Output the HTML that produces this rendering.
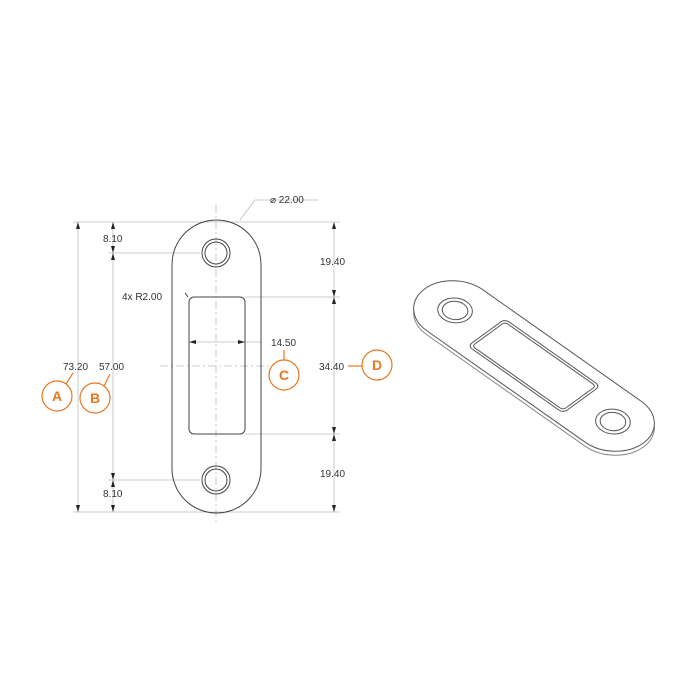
<!DOCTYPE html>
<html><head><style>body{margin:0;background:#fff}svg{display:block}</style></head><body>
<svg width="700" height="700" viewBox="0 0 700 700" xmlns="http://www.w3.org/2000/svg" font-family="Liberation Sans, sans-serif">
<g fill="none" stroke="#bbb" stroke-width="0.8">
<line x1="73" y1="222" x2="340" y2="222"/><line x1="73" y1="512" x2="340" y2="512"/>
<line x1="108" y1="253" x2="200" y2="253"/><line x1="108" y1="480" x2="200" y2="480"/>
<line x1="245" y1="297" x2="340" y2="297"/><line x1="245" y1="434" x2="340" y2="434"/>
<line x1="78" y1="222" x2="78" y2="512"/><line x1="113" y1="222" x2="113" y2="512"/>
<line x1="334" y1="222" x2="334" y2="512"/>
<line x1="189" y1="342" x2="262" y2="342"/>
<line x1="240" y1="220" x2="255" y2="200"/><line x1="255" y1="200" x2="318" y2="200"/>
</g>
<g stroke="#bbb" stroke-width="0.8" stroke-dasharray="8 3 2 3">
<line x1="216" y1="205" x2="216" y2="525"/><line x1="160" y1="366" x2="272" y2="366"/>
</g>
<g fill="#222">
<path d="M78 222 l-2 7 h4z"/><path d="M78 512 l-2 -7 h4z"/>
<path d="M113 222 l-2 7 h4z"/><path d="M113 512 l-2 -7 h4z"/>
<path d="M113 253 l-2 -7 h4z"/><path d="M113 253 l-2 7 h4z"/>
<path d="M113 480 l-2 -7 h4z"/><path d="M113 480 l-2 7 h4z"/>
<path d="M334 222 l-2 7 h4z"/><path d="M334 512 l-2 -7 h4z"/>
<path d="M334 297 l-2 -7 h4z"/><path d="M334 297 l-2 7 h4z"/>
<path d="M334 434 l-2 -7 h4z"/><path d="M334 434 l-2 7 h4z"/>
<path d="M189 342 l7 -2 v4z"/><path d="M245 342 l-7 -2 v4z"/>
</g>
<g fill="none" stroke="#444" stroke-width="1">
<rect x="172" y="220" width="89" height="293" rx="44.5"/>
<circle cx="216" cy="253" r="14"/><circle cx="216" cy="253" r="11"/>
<circle cx="216" cy="480" r="14"/><circle cx="216" cy="480" r="11"/>
<rect x="189" y="297" width="56" height="137" rx="5"/>
<line x1="188" y1="297" x2="185" y2="293"/>
</g>
<g font-size="10" fill="#333">
<text x="270" y="203">⌀ 22.00</text>
<text x="103" y="242">8.10</text><text x="103" y="497">8.10</text>
<text x="320" y="265">19.40</text><text x="320" y="477">19.40</text>
<text x="122" y="300">4x R2.00</text>
<text x="271" y="346">14.50</text>
<text x="63" y="370">73.20</text><text x="99" y="370">57.00</text>
<text x="319" y="370">34.40</text>
</g>
<g stroke="#e87722" fill="none" stroke-width="1.2">
<circle cx="57" cy="396" r="15"/><circle cx="95" cy="398" r="15"/>
<circle cx="284" cy="375" r="15"/><circle cx="377" cy="365" r="15"/>
<line x1="66" y1="384" x2="73" y2="373"/><line x1="104" y1="386" x2="110" y2="374"/>
<line x1="284" y1="360" x2="284" y2="350"/><line x1="348" y1="366" x2="362" y2="366"/>
</g>
<g fill="#e87722" font-size="14" font-weight="bold" text-anchor="middle">
<text x="57" y="401">A</text><text x="95" y="403">B</text><text x="284" y="380">C</text><text x="377" y="370">D</text>
</g>
<g transform="matrix(2.77,1.95,2.55,-1.86,534,370)" fill="#fff" stroke="#888" stroke-width="1">
<path d="M-28.5 -11 H28.5 A11 11 0 0 1 28.5 11 H-28.5 A11 11 0 0 1 -28.5 -11Z" vector-effect="non-scaling-stroke"/>
</g>
<g transform="matrix(2.77,1.95,2.55,-1.86,534,366)" fill="#fff" stroke="#555" stroke-width="1">
<path d="M-28.5 -11 H28.5 A11 11 0 0 1 28.5 11 H-28.5 A11 11 0 0 1 -28.5 -11Z" vector-effect="non-scaling-stroke"/>
<circle cx="-28.5" cy="0" r="4.6" vector-effect="non-scaling-stroke"/>
<circle cx="-28.5" cy="0" r="3.4" vector-effect="non-scaling-stroke"/>
<circle cx="28.5" cy="0" r="4.6" vector-effect="non-scaling-stroke"/>
<circle cx="28.5" cy="0" r="3.4" vector-effect="non-scaling-stroke"/>
<rect x="-17.2" y="-7.25" width="34.4" height="14.5" rx="1.5" vector-effect="non-scaling-stroke"/>
<rect x="-16.4" y="-6.45" width="32.8" height="12.9" rx="1" vector-effect="non-scaling-stroke"/>
</g>
</svg>
</body></html>
